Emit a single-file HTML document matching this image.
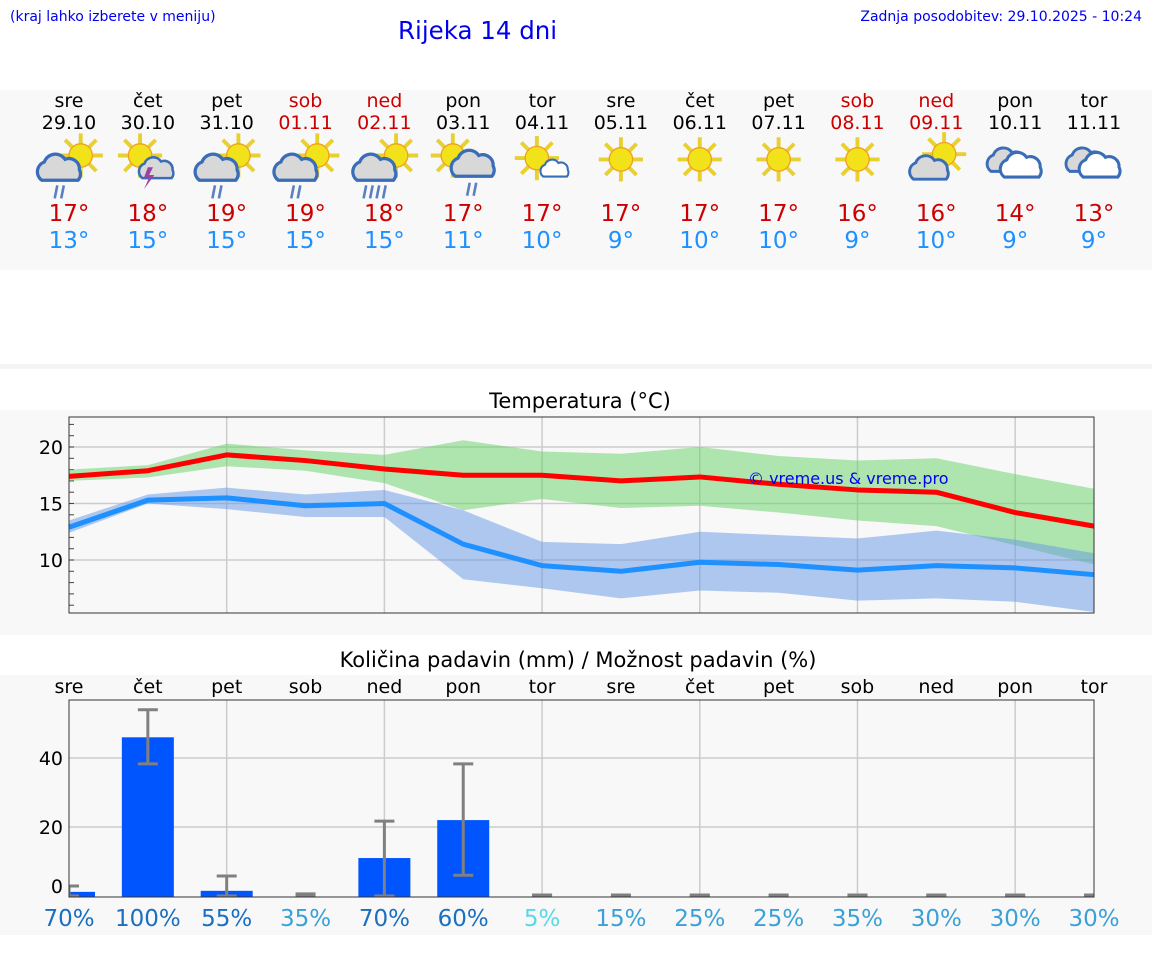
<!DOCTYPE html>
<html><head><meta charset="utf-8"><style>
body{margin:0;width:1152px;height:975px;background:#fff;font-family:"DejaVu Sans","Liberation Sans",sans-serif;overflow:hidden;position:relative}
svg{position:absolute;left:0;top:0}
</style></head><body>
<svg id="s" width="1152" height="975" font-family="DejaVu Sans, Liberation Sans, sans-serif">
<defs>
<g id="sun"><g stroke="#e8d030" stroke-width="3"><line x1="0" y1="-17" x2="0" y2="17"/><line x1="-17" y1="0" x2="17" y2="0"/><line x1="-12" y1="-12" x2="12" y2="12"/><line x1="-12" y1="12" x2="12" y2="-12"/></g><circle r="9" fill="#f2e21a" stroke="#f0a020" stroke-width="1"/></g>
<g id="cloud"><path d="M-14,8 a8,8 0 0 1 2,-14 a9,9 0 0 1 16,-2 a8,8 0 0 1 11,8 a7,7 0 0 1 -1,8 z" fill="#d8d8d8" stroke="#3a6db8" stroke-width="2.5"/></g>
<g id="wcloud"><path d="M-14,8 a8,8 0 0 1 2,-14 a9,9 0 0 1 16,-2 a8,8 0 0 1 11,8 a7,7 0 0 1 -1,8 z" fill="#fff" stroke="#3a6db8" stroke-width="2.5"/></g>
<g id="rain2" stroke="#5a80c0" stroke-width="2"><line x1="-3" y1="0" x2="-5" y2="10"/><line x1="2" y1="0" x2="0" y2="10"/></g>
<g id="rain4" stroke="#5a80c0" stroke-width="2"><line x1="-8" y1="0" x2="-10" y2="10"/><line x1="-3" y1="0" x2="-5" y2="10"/><line x1="2" y1="0" x2="0" y2="10"/><line x1="7" y1="0" x2="5" y2="10"/></g>
</defs>
</svg>
<script>
const days=['sre','čet','pet','sob','ned','pon','tor','sre','čet','pet','sob','ned','pon','tor'];
const dates=['29.10','30.10','31.10','01.11','02.11','03.11','04.11','05.11','06.11','07.11','08.11','09.11','10.11','11.11'];
const weekend=[0,0,0,1,1,0,0,0,0,0,1,1,0,0];
const icons=['rain','thunder','rain','rain','heavy','rainR','sunsmall','sun','sun','sun','sun','suncloud','clouds','clouds'];
const maxT=[17.4,17.9,19.3,18.8,18.05,17.5,17.5,17.0,17.35,16.7,16.2,16.0,14.2,13.0];
const maxHi=[18,18.4,20.3,19.7,19.3,20.6,19.6,19.4,20,19.2,18.8,19,17.6,16.3];
const maxLo=[17,17.3,18.3,17.9,16.8,14.4,15.4,14.6,14.8,14.2,13.5,13,11.3,9.6];
const minT=[12.9,15.3,15.5,14.8,15.0,11.4,9.5,9.0,9.8,9.6,9.1,9.5,9.3,8.7];
const minHi=[13.5,15.8,16.4,15.8,16.2,14.4,11.6,11.4,12.5,12.2,11.9,12.6,11.8,10.6];
const minLo=[12.4,15.0,14.5,13.8,13.8,8.3,7.5,6.6,7.3,7.1,6.4,6.6,6.3,5.4];
const maxLbl=[17,18,19,19,18,17,17,17,17,17,16,16,14,13];
const minLbl=[13,15,15,15,15,11,10,9,10,10,9,10,9,9];
const tTicks=[10,15,20];
const precip=[1.2,46,1.5,0,11,22,0,0,0,0,0,0,0,0];
const errHi=[2.9,54,5.8,0.6,21.7,38.3,0.3,0.3,0.3,0.3,0.3,0.3,0.3,0.3];
const errLo=[0,38.3,0,0,0,6,0,0,0,0,0,0,0,0];
const prob=[70,100,55,35,70,60,5,15,25,25,35,30,30,30];
const pTicks=[0,20,40];

const NS='http://www.w3.org/2000/svg';
const svg=document.getElementById('s');
function el(t,a,txt,parent){const e=document.createElementNS(NS,t);for(const k in a)e.setAttribute(k,a[k]);if(txt!==undefined)e.textContent=txt;(parent||svg).appendChild(e);return e;}
const X0=69,X1=1094,step=(X1-X0)/13;
const xi=i=>X0+i*step;
const tY=v=>447+(20-v)*11.3;
const pY=v=>896-v*3.45;

let b;
b=el('rect',{x:0,y:90,width:1152,height:180,fill:'#f8f8f8'});

el('rect',{x:0,y:364,width:1152,height:5,fill:'#f4f4f4'});
b=el('rect',{x:0,y:410,width:1152,height:225,fill:'#f8f8f8'});

b=el('rect',{x:0,y:675,width:1152,height:260,fill:'#f8f8f8'});


let t;
t=el('text',{x:10,y:21,'font-size':14,fill:'#0000ee'},'(kraj lahko izberete v meniju)');

t=el('text',{x:398,y:39,'font-size':24.5,fill:'#0000ee'},'Rijeka 14 dni');

t=el('text',{x:1142,y:21,'font-size':14,fill:'#0000ee','text-anchor':'end'},'Zadnja posodobitev: 29.10.2025 - 10:24');


for(let i=0;i<14;i++){
  const x=xi(i),c=weekend[i]?'#cc0000':'#000';
  t=el('text',{x:x,y:107,'font-size':19,fill:c,'text-anchor':'middle'},days[i]);
  
  t=el('text',{x:x,y:129,'font-size':19,fill:c,'text-anchor':'middle'},dates[i]);
  
  const g=el('g',{transform:`translate(${x},162) scale(1.3)`});
  
  const ic=icons[i];
  const use=(id,tx,ty,s)=>el('use',{href:'#'+id,transform:`translate(${tx},${ty}) scale(${s||1})`},undefined,g);
  if(ic==='rain'||ic==='heavy'){use('sun',9,-5);use('cloud',-7,6);use(ic==='heavy'?'rain4':'rain2',-6,18);}
  else if(ic==='thunder'){use('sun',-6,-5);use('cloud',7,6,0.8);el('path',{d:'M0,4 l-3,8 h4 l-4,9 l8,-11 h-4 l3,-6z',fill:'#a040a0'},undefined,g);}
  else if(ic==='rainR'){use('sun',-8,-5);use('cloud',8,3);use('rain2',8,16);}
  else if(ic==='sunsmall'){use('sun',-4,-3);use('wcloud',10,6,0.65);}
  else if(ic==='sun'){use('sun',0,-2);}
  else if(ic==='suncloud'){use('sun',6,-6);use('cloud',-5,6,0.9);}
  else {use('cloud',-6,0,0.9);use('wcloud',5,4,0.95);}
  t=el('text',{x:x,y:221,'font-size':23,fill:'#cc0000','text-anchor':'middle'},maxLbl[i]+'°');
  
  t=el('text',{x:x,y:248,'font-size':23,fill:'#1e90ff','text-anchor':'middle'},minLbl[i]+'°');
  
}

t=el('text',{x:580,y:408,'font-size':21,fill:'#000','text-anchor':'middle'},'Temperatura (°C)');

const TT=417,TB=613;
el('rect',{x:X0,y:TT,width:X1-X0,height:TB-TT,fill:'#f8f8f8'});
for(let i=2;i<14;i+=2){const l=el('line',{x1:xi(i),x2:xi(i),y1:TT,y2:TB,stroke:'#ccc','stroke-width':1.5});}
for(const v of tTicks){
  const l=el('line',{x1:X0,x2:X1,y1:tY(v),y2:tY(v),stroke:'#ccc','stroke-width':1.5});
  
  t=el('text',{x:63,y:tY(v)+7,'font-size':19,fill:'#000','text-anchor':'end'},v);
  
}
for(let v=6;v<=22;v++){el('line',{x1:X0,x2:X0+5,y1:tY(v),y2:tY(v),stroke:'#444','stroke-width':1});}
function band(hi,lo,fill,name){
  let d='M'+hi.map((v,i)=>xi(i)+','+tY(v)).join(' L')+' L'+lo.map((v,i)=>xi(i)+','+tY(v)).reverse().join(' L')+'Z';
  const p=el('path',{d:d,fill:fill});
}
function line(arr,c,name){
  const p=el('polyline',{points:arr.map((v,i)=>xi(i)+','+tY(v)).join(' '),fill:'none',stroke:c,'stroke-width':5,'stroke-linejoin':'round'});
  
}
band(maxHi,maxLo,'rgba(100,210,100,0.5)','max-temp-range');
band(minHi,minLo,'rgba(100,150,230,0.5)','min-temp-range');
line(maxT,'#ff0000','max-temp-line');
line(minT,'#1e90ff','min-temp-line');
el('rect',{x:X0,y:TT,width:X1-X0,height:TB-TT,fill:'none',stroke:'#333','stroke-width':1});
t=el('text',{x:748,y:484,'font-size':16,fill:'#0000ee'},'© vreme.us & vreme.pro');


t=el('text',{x:578,y:667,'font-size':21,fill:'#000','text-anchor':'middle'},'Količina padavin (mm) / Možnost padavin (%)');

const PT=700,PB=897;
el('rect',{x:X0,y:PT,width:X1-X0,height:PB-PT,fill:'#f8f8f8'});
for(let i=2;i<14;i+=2){const l=el('line',{x1:xi(i),x2:xi(i),y1:PT,y2:PB,stroke:'#ccc','stroke-width':1.5});}
for(const v of pTicks){
  if(v>0){const l=el('line',{x1:X0,x2:X1,y1:pY(v),y2:pY(v),stroke:'#ccc','stroke-width':1.5});}
  t=el('text',{x:63,y:pY(v)+(v===0?-3:7),'font-size':19,fill:'#000','text-anchor':'end'},v);
  
}
const clip=el('clipPath',{id:'pc'});el('rect',{x:X0,y:PT,width:X1-X0,height:PB-PT},undefined,clip);
const pg=el('g',{'clip-path':'url(#pc)'});
for(let i=0;i<14;i++){
  const x=xi(i);
  t=el('text',{x:x,y:693,'font-size':19,fill:'#000','text-anchor':'middle'},days[i]);
  
  if(precip[i]>0){const r=el('rect',{x:x-26,y:pY(precip[i]),width:52,height:pY(0)-pY(precip[i])+1,fill:'#0055ff'},undefined,pg);
    }
  const e=el('g',{stroke:'#808080','stroke-width':3},undefined,pg);
  
  el('line',{x1:x,x2:x,y1:pY(errHi[i]),y2:pY(errLo[i])},undefined,e);
  el('line',{x1:x-10,x2:x+10,y1:pY(errHi[i]),y2:pY(errHi[i])},undefined,e);
  el('line',{x1:x-10,x2:x+10,y1:pY(errLo[i]),y2:pY(errLo[i])},undefined,e);
  const p=prob[i],c=p>=55?'#1a6fc0':(p>=10?'#3aa0d8':'#5ad8e8');
  t=el('text',{x:x,y:926,'font-size':23,fill:c,'text-anchor':'middle'},p+'%');
  
}
el('rect',{x:X0,y:PT,width:X1-X0,height:PB-PT,fill:'none',stroke:'#333','stroke-width':1});
</script>
</body></html>
